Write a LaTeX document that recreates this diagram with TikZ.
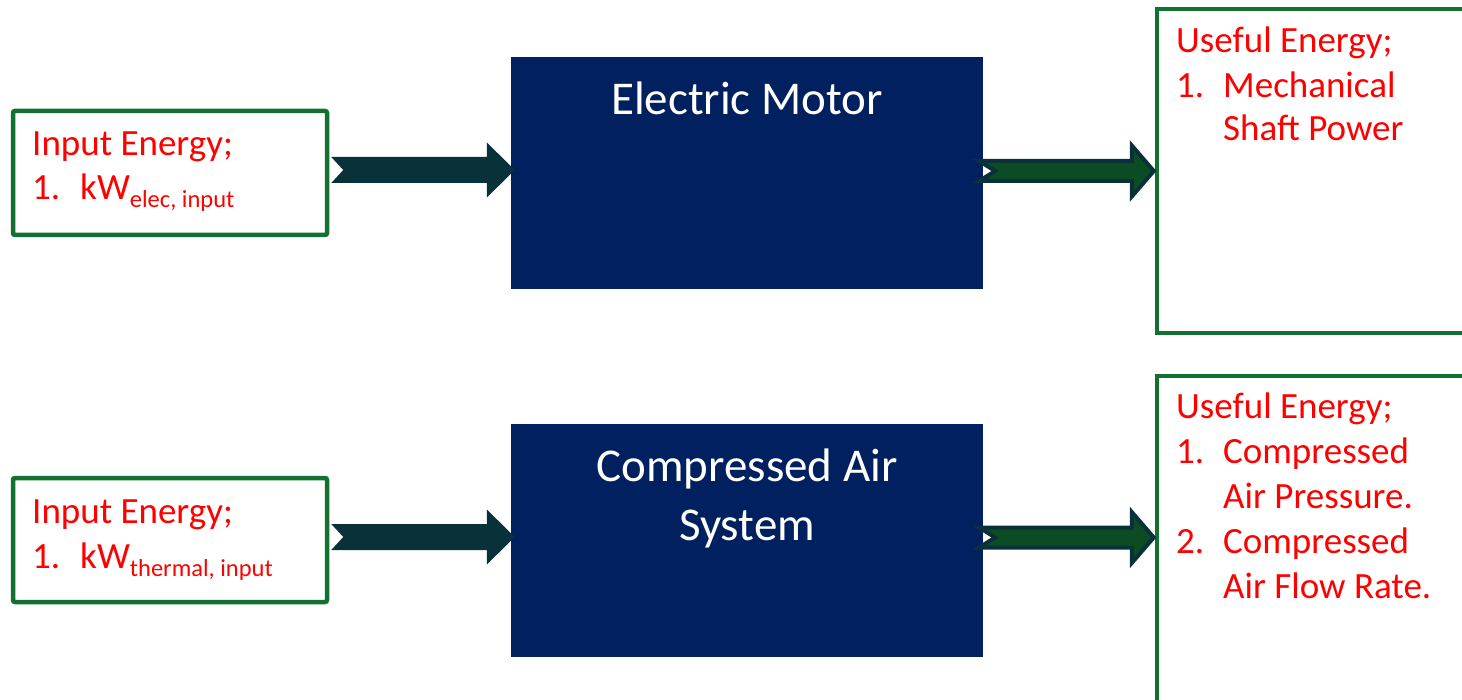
\documentclass[tikz,border=0pt]{standalone}
\usepackage{fontspec}
\setmainfont{Carlito}
\usetikzlibrary{calc}
\definecolor{boxgreen}{RGB}{18,112,48}
\definecolor{navy}{RGB}{0,32,96}
\definecolor{teal}{RGB}{8,49,58}
\definecolor{dgreen}{RGB}{12,76,36}
\definecolor{txtred}{RGB}{255,0,0}
% #1 style, #2 tail, #3 tip, #4 shaft half, #5 head half, #6 head length, #7 notch
\newcommand\fatarr[7]{%
  \path[#1] ($(#2)+(0,-#4)$) -- ($(#3)+(-#6,-#4)$) -- ($(#3)+(-#6,-#5)$) -- (#3)
    -- ($(#3)+(-#6,#5)$) -- ($(#3)+(-#6,#4)$) -- ($(#2)+(0,#4)$) -- ($(#2)+(#7,0)$) -- cycle;}
\tikzset{
  inbox/.style={draw=boxgreen, line width=4.5pt, rounded corners=2pt, minimum width=314pt, minimum height=124pt, inner sep=0pt},
  outbox/.style={draw=boxgreen, line width=4.5pt, minimum width=340pt, inner sep=0pt},
  blk/.style={fill=navy, minimum width=472pt, minimum height=232pt, inner sep=0pt},
  rtxt/.style={anchor=base west, inner sep=0pt, text=txtred, font=\fontsize{37}{44}\selectfont},
  wtxt/.style={anchor=base, inner sep=0pt, text=white, font=\fontsize{47}{58}\selectfont},
  plainarr/.style={fill=teal},
  edgearr/.style={fill=dgreen, draw=teal, line width=4pt, line join=miter},
}
\newcommand\sub[1]{\raisebox{-8pt}{\fontsize{24.5}{24.5}\selectfont #1}}
\begin{document}
\begin{tikzpicture}[x=1pt, y=-1pt]
\clip (0,0) rectangle (1462,700);
% boxes
\node[inbox] (in1) at (170,173) {};
\node[inbox] (in2) at (170,540) {};
\node[blk] (motor) at (747,173) {};
\node[blk] (cas) at (747,540.5) {};
\node[outbox, minimum height=324pt] (out1) at (1327,171) {};
\node[outbox, minimum height=344pt] (out2) at (1327,548) {};
% arrows
\coordinate (a1s) at ($(in1.east)+(2,-3)$);
\coordinate (a1e) at ($(motor.west)+(4,-3)$);
\fatarr{plainarr}{a1s}{a1e}{13}{27.5}{28}{12}
\coordinate (a2s) at ($(motor.east)+(-4,-2)$);
\coordinate (a2e) at ($(out1.west)+(-1,0)$);
\fatarr{edgearr}{a2s}{a2e}{10}{25.5}{22}{16}
\coordinate (a3s) at ($(in2.east)+(2,-3)$);
\coordinate (a3e) at ($(cas.west)+(4,-3.5)$);
\fatarr{plainarr}{a3s}{a3e}{13}{27.5}{28}{12}
\coordinate (a4s) at ($(cas.east)+(-4,-3)$);
\coordinate (a4e) at ($(out2.west)+(-1,-10.5)$);
\fatarr{edgearr}{a4s}{a4e}{10}{25.5}{22}{16}
% texts in blue boxes
\node[wtxt] (tm) at (747,115) {Electric Motor};
\node[wtxt] (tc1) at (747,481) {Compressed Air};
\node[wtxt] (tc2) at (747,540) {System};
% left texts
\node[rtxt] (l1a) at (32,156) {Input Energy;};
\node[rtxt] (l1b) at (32,200) {1.};
\node[rtxt] (l1c) at (80,200) {kW\sub{elec, input}};
\node[rtxt] (l2a) at (32,523) {Input Energy;};
\node[rtxt] (l2b) at (32,568) {1.};
\node[rtxt] (l2c) at (80,568) {kW\sub{thermal, input}};
% right texts
\node[rtxt] (r1a) at (1176,53) {Useful Energy;};
\node[rtxt] (r1b) at (1176,98) {1.};
\node[rtxt] (r1c) at (1223,98) {Mechanical};
\node[rtxt] (r1d) at (1223,141) {Shaft Power};
\node[rtxt] (r2a) at (1176,419) {Useful Energy;};
\node[rtxt] (r2b) at (1176,464) {1.};
\node[rtxt] (r2c) at (1223,464) {Compressed};
\node[rtxt] (r2d) at (1223,508) {Air Pressure.};
\node[rtxt] (r2e) at (1176,553) {2.};
\node[rtxt] (r2f) at (1223,553) {Compressed};
\node[rtxt] (r2g) at (1223,598) {Air Flow Rate.};
\end{tikzpicture}
\end{document}
